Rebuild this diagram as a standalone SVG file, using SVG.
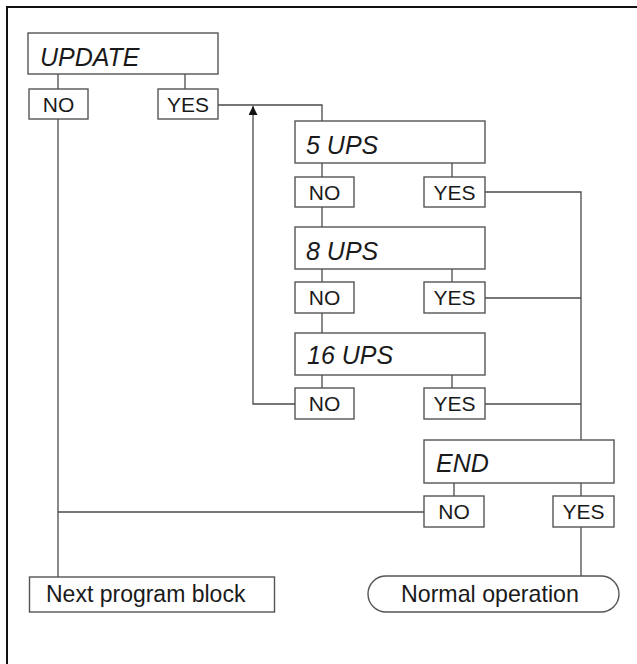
<svg xmlns="http://www.w3.org/2000/svg" width="637" height="664" viewBox="0 0 637 664">
<defs>
<style>
.box{fill:#fff;stroke:#555;stroke-width:1.4}
.ln{fill:none;stroke:#4a4a4a;stroke-width:1.3}
.t{font-family:"Liberation Sans",Arial,sans-serif;fill:#1a1a1a}
.ti{font-family:"Liberation Sans",Arial,sans-serif;font-style:italic;font-size:25px;fill:#1a1a1a}
.yn{font-family:"Liberation Sans",Arial,sans-serif;font-size:21px;fill:#1a1a1a;text-anchor:middle}
</style>
<marker id="ah" viewBox="0 0 10 10" refX="10" refY="5" markerWidth="11" markerHeight="9" markerUnits="userSpaceOnUse" orient="auto">
<path d="M0,0 L10,5 L0,10 Z" fill="#111"/>
</marker>
</defs>
<rect width="637" height="664" fill="#fff"/>
<path d="M7,664 V7 H637" fill="none" stroke="#111" stroke-width="2"/>

<g id="connectors">
<path class="ln" d="M58,74 V89"/>
<path class="ln" d="M185,74 V89"/>
<path class="ln" d="M58,119 V577"/>
<path class="ln" d="M218,105 H322 V121"/>
<path class="ln" d="M322,163 V177"/>
<path class="ln" d="M452,163 V177"/>
<path class="ln" d="M322,207 V227"/>
<path class="ln" d="M485,192 H581 V440"/>
<path class="ln" d="M322,269 V282"/>
<path class="ln" d="M452,269 V282"/>
<path class="ln" d="M322,313 V333"/>
<path class="ln" d="M485,298 H581"/>
<path class="ln" d="M322,375 V388"/>
<path class="ln" d="M452,375 V388"/>
<path class="ln" d="M295,404 H253 V106" marker-end="url(#ah)"/>
<path class="ln" d="M485,404 H581"/>
<path class="ln" d="M454,483 V496"/>
<path class="ln" d="M581,483 V496"/>
<path class="ln" d="M424,512 H58"/>
<path class="ln" d="M581,527 V576"/>
</g>

<g id="update">
<rect class="box" x="28" y="33" width="190" height="41"/>
<text class="ti" x="40" y="66">UPDATE</text>
</g>
<g id="update-no">
<rect class="box" x="29" y="89" width="59" height="30"/>
<text class="yn" x="58.5" y="111.5">NO</text>
</g>
<g id="update-yes">
<rect class="box" x="158" y="89" width="60" height="30"/>
<text class="yn" x="188" y="111.5">YES</text>
</g>

<g id="ups5">
<rect class="box" x="295" y="121" width="190" height="42"/>
<text class="ti" x="306" y="153.5">5 UPS</text>
</g>
<g id="ups5-no">
<rect class="box" x="295" y="177" width="59" height="30"/>
<text class="yn" x="324.5" y="199.5">NO</text>
</g>
<g id="ups5-yes">
<rect class="box" x="424" y="177" width="61" height="30"/>
<text class="yn" x="454.5" y="199.5">YES</text>
</g>

<g id="ups8">
<rect class="box" x="295" y="227" width="190" height="42"/>
<text class="ti" x="306" y="259.5">8 UPS</text>
</g>
<g id="ups8-no">
<rect class="box" x="295" y="282" width="59" height="31"/>
<text class="yn" x="324.5" y="305">NO</text>
</g>
<g id="ups8-yes">
<rect class="box" x="424" y="282" width="61" height="31"/>
<text class="yn" x="454.5" y="305">YES</text>
</g>

<g id="ups16">
<rect class="box" x="295" y="333" width="190" height="42"/>
<text class="ti" x="307" y="363.5">16 UPS</text>
</g>
<g id="ups16-no">
<rect class="box" x="295" y="388" width="59" height="31"/>
<text class="yn" x="324.5" y="411">NO</text>
</g>
<g id="ups16-yes">
<rect class="box" x="424" y="388" width="61" height="31"/>
<text class="yn" x="454.5" y="411">YES</text>
</g>

<g id="end">
<rect class="box" x="424" y="440" width="190" height="43"/>
<text class="ti" x="436" y="472">END</text>
</g>
<g id="end-no">
<rect class="box" x="424" y="496" width="60" height="31"/>
<text class="yn" x="454" y="519">NO</text>
</g>
<g id="end-yes">
<rect class="box" x="553" y="496" width="61" height="31"/>
<text class="yn" x="583.5" y="519">YES</text>
</g>

<g id="next-block">
<rect class="box" x="29.5" y="577" width="245" height="35"/>
<text class="t" x="46" y="602" font-size="23">Next program block</text>
</g>
<g id="normal-op">
<rect class="box" x="368" y="576" width="251" height="36" rx="18" ry="18"/>
<text class="t" x="401" y="602" font-size="23.2">Normal operation</text>
</g>
</svg>
